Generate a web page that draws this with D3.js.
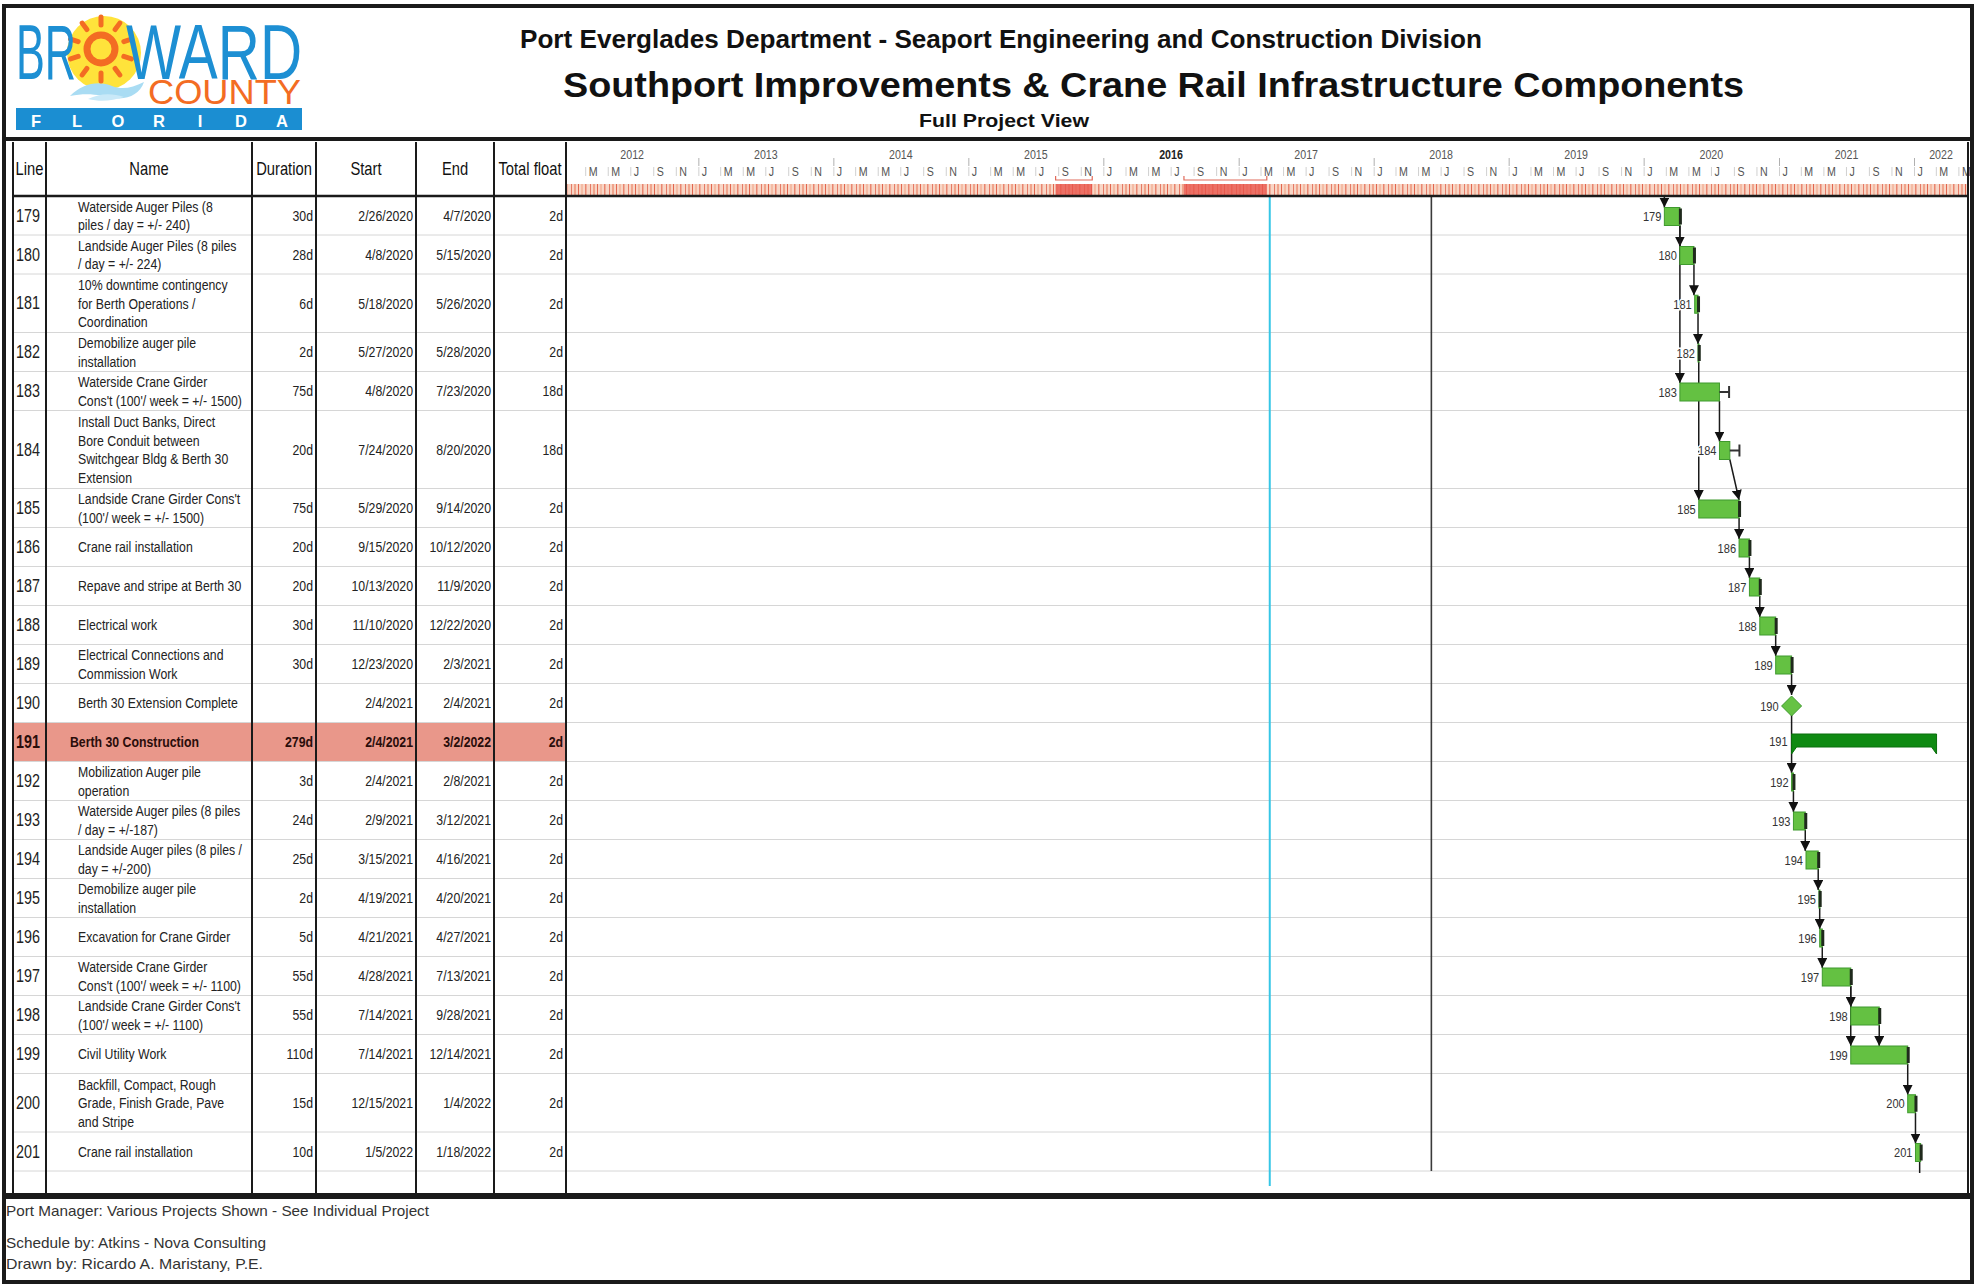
<!DOCTYPE html>
<html>
<head>
<meta charset="utf-8">
<title>Southport Improvements &amp; Crane Rail Infrastructure Components</title>
<script src="https://cdn.jsdelivr.net/npm/d3@7"></script>
<style>
  html, body { margin: 0; padding: 0; background: #fff; }
  svg { display: block; }
</style>
</head>
<body>
<svg id="chart" width="1976" height="1286"></svg>
<script>
// ---------------- schedule data ----------------
const lineIds = [179, 180, 181, 182, 183, 184, 185, 186, 187, 188, 189, 190,
                 191, 192, 193, 194, 195, 196, 197, 198, 199, 200, 201];

const taskNames = [
  "Waterside Auger Piles (8\npiles / day = +/- 240)",
  "Landside Auger Piles (8 piles\n/ day = +/- 224)",
  "10% downtime contingency\nfor Berth Operations /\nCoordination",
  "Demobilize auger pile\ninstallation",
  "Waterside Crane Girder\nCons't (100'/ week = +/- 1500)",
  "Install Duct Banks, Direct\nBore Conduit between\nSwitchgear Bldg & Berth 30\nExtension",
  "Landside Crane Girder Cons't\n(100'/ week = +/- 1500)",
  "Crane rail installation",
  "Repave and stripe at Berth 30",
  "Electrical work",
  "Electrical Connections and\nCommission Work",
  "Berth 30 Extension Complete",
  "Berth 30 Construction",
  "Mobilization Auger pile\noperation",
  "Waterside Auger piles (8 piles\n/ day = +/-187)",
  "Landside Auger piles (8 piles /\nday = +/-200)",
  "Demobilize auger pile\ninstallation",
  "Excavation for Crane Girder",
  "Waterside Crane Girder\nCons't (100'/ week = +/- 1100)",
  "Landside Crane Girder Cons't\n(100'/ week = +/- 1100)",
  "Civil Utility Work",
  "Backfill, Compact, Rough\nGrade, Finish Grade, Pave\nand Stripe",
  "Crane rail installation"
];

const durations = ["30d", "28d", "6d", "2d", "75d", "20d", "75d", "20d", "20d", "30d", "30d", "",
                   "279d", "3d", "24d", "25d", "2d", "5d", "55d", "55d", "110d", "15d", "10d"];

const startDates = ["2/26/2020", "4/8/2020", "5/18/2020", "5/27/2020", "4/8/2020", "7/24/2020",
                    "5/29/2020", "9/15/2020", "10/13/2020", "11/10/2020", "12/23/2020", "2/4/2021",
                    "2/4/2021", "2/4/2021", "2/9/2021", "3/15/2021", "4/19/2021", "4/21/2021",
                    "4/28/2021", "7/14/2021", "7/14/2021", "12/15/2021", "1/5/2022"];

const endDates = ["4/7/2020", "5/15/2020", "5/26/2020", "5/28/2020", "7/23/2020", "8/20/2020",
                  "9/14/2020", "10/12/2020", "11/9/2020", "12/22/2020", "2/3/2021", "2/4/2021",
                  "3/2/2022", "2/8/2021", "3/12/2021", "4/16/2021", "4/20/2021", "4/27/2021",
                  "7/13/2021", "9/28/2021", "12/14/2021", "1/4/2022", "1/18/2022"];

const totalFloat = ["2d", "2d", "2d", "2d", "18d", "18d", "2d", "2d", "2d", "2d", "2d", "2d",
                    "2d", "2d", "2d", "2d", "2d", "2d", "2d", "2d", "2d", "2d", "2d"];

const summaryLines = [191];
const milestoneLines = [190];

// predecessor -> successor ("FS" finish-to-start, "FF" finish-to-finish)
const links = [
  [null, 179, "IN"],
  [179, 180, "FS"], [179, 183, "FS"], [180, 181, "FS"], [181, 182, "FS"], [182, 185, "FS"],
  [183, 184, "FS"], [184, 185, "FF"], [185, 186, "FS"], [186, 187, "FS"], [187, 188, "FS"],
  [188, 189, "FS"], [189, 190, "FS"], [190, 192, "FS"], [192, 193, "FS"], [193, 194, "FS"],
  [194, 195, "FS"], [195, 196, "FS"], [196, 197, "FS"], [197, 198, "FS"], [197, 199, "FS"],
  [198, 199, "FS"], [199, 200, "FS"], [200, 201, "FS"],
  [201, null, "OUT"]
];

const columnHeaders = ["Line", "Name", "Duration", "Start", "End", "Total float"];
const yearLabels = [2012, 2013, 2014, 2015, 2016, 2017, 2018, 2019, 2020, 2021, 2022];
const boldYears = [2016];

const statusDate = "3/26/2017";
const markerDate = "6/6/2018";
// periods of heavy activity in the whole-program histogram strip
const busyPeriods = [["8/25/2015", "12/2/2015"], ["8/6/2016", "3/18/2017"]];

const headerLine1 = "Port Everglades Department - Seaport Engineering and Construction Division";
const headerTitle = "Southport Improvements & Crane Rail Infrastructure Components";
const headerSub = "Full Project View";
const footerLines = [
  "Port Manager: Various Projects Shown - See Individual Project",
  "Schedule by: Atkins - Nova Consulting",
  "Drawn by: Ricardo A. Maristany, P.E."
];

// ---------------- helpers ----------------
const svg = d3.select("#chart");
const FONT = "'Liberation Sans', Arial, Helvetica, sans-serif";
const NARROW = 0.82;

const parseDate = s => { const [m, d, y] = s.split("/").map(Number); return new Date(y, m - 1, d); };
const nextDay = dt => d3.timeDay.offset(dt, 1);
function addWorkdays(dt, n) {
  let d = new Date(dt), k = 0;
  while (k < n) { d = d3.timeDay.offset(d, 1); const wd = d.getDay(); if (wd !== 0 && wd !== 6) k++; }
  return d;
}

// condensed text (horizontally scaled sans)
function ntext(g, x, y, s, o = {}) {
  return g.append("text")
    .attr("transform", `translate(${x},${y}) scale(${o.scale || NARROW},1)`)
    .attr("font-family", FONT)
    .attr("font-size", o.size || 15)
    .attr("font-weight", o.weight || "normal")
    .attr("text-anchor", o.anchor || "start")
    .attr("dy", "0.35em")
    .attr("fill", o.fill || "#222")
    .text(s);
}

svg.append("rect").attr("width", 1976).attr("height", 1286).attr("fill", "#fff");

// ---------------- layout ----------------
const colX = [13, 46, 252, 316, 416, 494, 566];
const rightX = 1968;
const headTop = 142, headBottom = 196;
const lineH = 19.5;

let yCursor = headBottom;
const rows = lineIds.map((id, i) => {
  const lines = taskNames[i].split("\n");
  const h = Math.max(2, lines.length) * lineH;
  const r = {
    id, i, lines, top: yCursor, h, mid: yCursor + h / 2,
    start: parseDate(startDates[i]), end: parseDate(endDates[i]),
    float: parseInt(totalFloat[i], 10),
    summary: summaryLines.includes(id), milestone: milestoneLines.includes(id)
  };
  yCursor += h;
  return r;
});
const rowsBottom = yCursor;
const tableBottom = 1194;
const byId = new Map(rows.map(r => [r.id, r]));

// time scale: Jan 2012 .. spring 2022
const x = d3.scaleTime()
  .domain([new Date(2012, 0, 1), new Date(2022, 0, 1)])
  .range([563, 1914]);
const tl = x.copy().domain([x.invert(colX[6]), x.invert(rightX)]).range([colX[6], rightX]);

// ---------------- logo ----------------
const logo = svg.append("g");
logo.append("circle").attr("cx", 104).attr("cy", 53).attr("r", 37).attr("fill", "#ffe33b");
logo.append("path")
  .attr("d", "M70,96 C82,84 98,80 112,86 C122,90 132,88 144,82 C140,94 128,100 114,98 C102,96 90,92 70,96 Z")
  .attr("fill", "#a9dcf3");
logo.append("path")
  .attr("d", "M88,99 C100,93 112,93 124,97 C112,101 100,102 88,99 Z")
  .attr("fill", "#c9e9f8");
// sun rays around the "O"
d3.range(10).forEach(k => {
  const a = k / 10 * 2 * Math.PI - Math.PI / 2;
  logo.append("line")
    .attr("x1", 101 + Math.cos(a) * 24).attr("y1", 49 + Math.sin(a) * 24)
    .attr("x2", 101 + Math.cos(a) * 32).attr("y2", 49 + Math.sin(a) * 32)
    .attr("stroke", "#f36c23").attr("stroke-width", 5).attr("stroke-linecap", "round");
});
logo.append("circle").attr("cx", 101).attr("cy", 49).attr("r", 14)
  .attr("fill", "none").attr("stroke", "#f36c23").attr("stroke-width", 7);
// word mark: one text run with positioned pieces
const mark = logo.append("text").attr("font-family", FONT).attr("lengthAdjust", "spacingAndGlyphs");
mark.append("tspan").attr("x", 16).attr("y", 79).attr("font-size", 78).attr("fill", "#1d8fd3")
  .attr("textLength", 60).attr("lengthAdjust", "spacingAndGlyphs").text("BR");
mark.append("tspan").attr("x", 126).attr("y", 79).attr("font-size", 78).attr("fill", "#1d8fd3")
  .attr("textLength", 176).attr("lengthAdjust", "spacingAndGlyphs").text("WARD");
mark.append("tspan").attr("x", 148).attr("y", 104).attr("font-size", 35).attr("fill", "#f36c23")
  .attr("textLength", 153).attr("lengthAdjust", "spacingAndGlyphs").text("COUNTY");
logo.append("rect").attr("x", 16).attr("y", 108).attr("width", 286).attr("height", 22).attr("fill", "#1b8ed2");
const floridaLetters = "FLORIDA".split("");
const fl = d3.scalePoint().domain(d3.range(floridaLetters.length)).range([36, 282]);
floridaLetters.forEach((c, k) => {
  logo.append("text").attr("x", fl(k)).attr("y", 127).attr("text-anchor", "middle")
    .attr("font-family", FONT).attr("font-weight", "bold").attr("font-size", 16.5).attr("fill", "#fff").text(c);
});

// ---------------- header titles ----------------
svg.append("text").attr("x", 520).attr("y", 48).attr("font-family", FONT).attr("font-weight", "bold")
  .attr("font-size", 25).attr("fill", "#111").attr("textLength", 962).attr("lengthAdjust", "spacingAndGlyphs")
  .text(headerLine1);
svg.append("text").attr("x", 563).attr("y", 97).attr("font-family", FONT).attr("font-weight", "bold")
  .attr("font-size", 35).attr("fill", "#111").attr("textLength", 1181).attr("lengthAdjust", "spacingAndGlyphs")
  .text(headerTitle);
svg.append("text").attr("x", 919).attr("y", 127).attr("font-family", FONT).attr("font-weight", "bold")
  .attr("font-size", 18).attr("fill", "#111").attr("textLength", 170).attr("lengthAdjust", "spacingAndGlyphs")
  .text(headerSub);

// ---------------- timeline header ----------------
const defs = svg.append("defs");
const pat = defs.append("pattern").attr("id", "histStripe").attr("patternUnits", "userSpaceOnUse")
  .attr("width", 19).attr("height", 12);
pat.append("rect").attr("width", 19).attr("height", 12).attr("fill", "#f8d6c6");
[[1, 1, "#e57a66"], [4, 2, "#f0a48c"], [8, 1, "#e2664f"], [11, 2, "#f4bba4"], [15, 1.5, "#e9856f"]]
  .forEach(([px, pw, pc]) => pat.append("rect").attr("x", px).attr("width", pw).attr("height", 12).attr("fill", pc));

svg.append("rect").attr("x", colX[6]).attr("y", 184).attr("width", rightX - colX[6]).attr("height", 12)
  .attr("fill", "url(#histStripe)");
busyPeriods.forEach(([a, b]) => {
  const xa = tl(parseDate(a)), xb = tl(parseDate(b));
  svg.append("rect").attr("x", xa).attr("y", 184).attr("width", xb - xa).attr("height", 12)
    .attr("fill", "#e8564c").attr("opacity", 0.8);
  svg.append("path").attr("d", `M${xa},176 V180 H${xb} V176`).attr("fill", "none")
    .attr("stroke", "#e06a5a").attr("stroke-width", 1.2);
});

// year boundaries
const yearAxis = d3.axisBottom(tl).ticks(d3.timeYear.every(1)).tickFormat("").tickSize(8).tickSizeOuter(0);
const ya = svg.append("g").attr("transform", "translate(0,158)").call(yearAxis);
ya.select(".domain").remove();
ya.selectAll(".tick line").attr("stroke", "#b0b0b0");

// year labels centred on the visible part of each year
yearLabels.forEach(yr => {
  const a = Math.max(tl(new Date(yr, 0, 1)), colX[6]);
  const b = Math.min(tl(new Date(yr + 1, 0, 1)), rightX);
  ntext(svg, (a + b) / 2, 154, String(yr), {
    size: 13, anchor: "middle", fill: boldYears.includes(yr) ? "#222" : "#555",
    weight: boldYears.includes(yr) ? "bold" : "normal"
  });
});

// month initials, every second month
const monthAxis = d3.axisBottom(tl).ticks(d3.timeMonth.every(2))
  .tickFormat(d => d3.timeFormat("%b")(d)[0]).tickSize(0).tickSizeOuter(0);
const ma = svg.append("g").attr("transform", "translate(0,171)").call(monthAxis);
ma.select(".domain").remove();
ma.selectAll(".tick line").attr("y1", -4).attr("y2", 5).attr("stroke", "#d0d0d0");
ma.selectAll(".tick text")
  .attr("font-family", FONT).attr("font-size", 13).attr("fill", "#555")
  .attr("text-anchor", "start").attr("y", 0).attr("dy", "0.35em")
  .attr("transform", `translate(3,0) scale(${NARROW},1)`).attr("x", 0);

// ---------------- table ----------------
const table = svg.append("g");
// highlighted summary row
rows.filter(r => r.summary).forEach(r => {
  table.append("rect").attr("x", colX[0]).attr("y", r.top).attr("width", colX[6] - colX[0])
    .attr("height", r.h).attr("fill", "#e9978a");
});
// row separators across table and timeline
table.selectAll("line.rowsep").data(rows).join("line").attr("class", "rowsep")
  .attr("x1", colX[0]).attr("x2", rightX)
  .attr("y1", r => r.top + r.h).attr("y2", r => r.top + r.h)
  .attr("stroke", "#d6d6d6").attr("stroke-width", 1);

// header labels
const headCenters = d3.range(6).map(k => (colX[k] + colX[k + 1]) / 2);
columnHeaders.forEach((h, k) => ntext(table, headCenters[k], 169, h, { size: 18, anchor: "middle", fill: "#111" }));

rows.forEach(r => {
  const bold = r.summary ? "bold" : "normal";
  const col = r.summary ? "#2a0d0a" : "#222";
  ntext(table, 16, r.mid, r.id, { size: 17.5, weight: bold, fill: col });
  r.lines.forEach((ln, j) => {
    ntext(table, r.summary ? 70 : 78, r.mid + (j - (r.lines.length - 1) / 2) * 18.5, ln,
      { size: 15, weight: bold, fill: col });
  });
  ntext(table, colX[3] - 3, r.mid, durations[r.i], { size: 15, anchor: "end", weight: bold, fill: col });
  ntext(table, colX[4] - 3, r.mid, startDates[r.i], { size: 15, anchor: "end", weight: bold, fill: col });
  ntext(table, colX[5] - 3, r.mid, endDates[r.i], { size: 15, anchor: "end", weight: bold, fill: col });
  ntext(table, colX[6] - 3, r.mid, totalFloat[r.i], { size: 15, anchor: "end", weight: bold, fill: col });
});

// ---------------- gantt ----------------
const gantt = svg.append("g");
// date lines
gantt.append("line").attr("x1", tl(parseDate(statusDate))).attr("x2", tl(parseDate(statusDate)))
  .attr("y1", headBottom).attr("y2", 1186).attr("stroke", "#36c6e6").attr("stroke-width", 2);
gantt.append("line").attr("x1", tl(parseDate(markerDate))).attr("x2", tl(parseDate(markerDate)))
  .attr("y1", headBottom).attr("y2", rowsBottom).attr("stroke", "#3a3a3a").attr("stroke-width", 1.6);

defs.append("marker").attr("id", "arrow").attr("viewBox", "0 0 10 10").attr("refX", 10).attr("refY", 5)
  .attr("markerWidth", 10).attr("markerHeight", 10).attr("markerUnits", "userSpaceOnUse").attr("orient", "auto")
  .append("path").attr("d", "M0,0 L10,5 L0,10 Z").attr("fill", "#111");

const barTop = r => r.mid - 8;
const barBottom = r => r.mid + 10;
const finishX = r => r.milestone ? tl(r.start) : tl(nextDay(r.end));
const linkG = gantt.append("g").attr("fill", "none").attr("stroke", "#1a1a1a").attr("stroke-width", 1.5);
links.forEach(([p, s, type]) => {
  if (type === "IN") {
    const r = byId.get(s);
    linkG.append("line").attr("x1", tl(r.start)).attr("x2", tl(r.start))
      .attr("y1", headBottom).attr("y2", barTop(r)).attr("marker-end", "url(#arrow)");
    return;
  }
  if (type === "OUT") {
    const r = byId.get(p);
    linkG.append("line").attr("x1", finishX(r) - 1).attr("x2", finishX(r) - 1)
      .attr("y1", barBottom(r)).attr("y2", rowsBottom + 2);
    return;
  }
  const a = byId.get(p), b = byId.get(s);
  const x0 = finishX(a);
  const y0 = a.milestone ? a.mid + 12 : barBottom(a);
  if (type === "FS") {
    linkG.append("line").attr("x1", x0).attr("x2", x0).attr("y1", y0).attr("y2", barTop(b))
      .attr("marker-end", "url(#arrow)");
  } else {
    linkG.append("line").attr("x1", x0).attr("x2", finishX(b)).attr("y1", y0).attr("y2", barTop(b))
      .attr("marker-end", "url(#arrow)");
  }
});

rows.forEach(r => {
  const x0 = tl(r.start), x1 = finishX(r);
  if (r.milestone) {
    const c = r.mid + 3, s = 10;
    gantt.append("path").attr("d", `M${x0},${c - s} L${x0 + s},${c} L${x0},${c + s} L${x0 - s},${c} Z`)
      .attr("fill", "#66c244").attr("stroke", "#3f9a2e").attr("stroke-width", 1);
    ntext(gantt, x0 - s - 3, c, r.id, { size: 13.5, anchor: "end", fill: "#333" });
    return;
  }
  if (r.summary) {
    const t = r.mid - 8, b = r.mid + 5, tip = r.mid + 12;
    gantt.append("path")
      .attr("d", `M${x0},${t} L${x1},${t} L${x1},${tip} L${x1 - 5},${b} L${x0 + 5},${b} L${x0},${tip} Z`)
      .attr("fill", "#0f8a12").attr("stroke", "#0a6e0c").attr("stroke-width", 1);
    ntext(gantt, x0 - 4, r.mid - 1, r.id, { size: 13.5, anchor: "end", fill: "#333" });
    return;
  }
  const t = barTop(r), h = barBottom(r) - barTop(r);
  gantt.append("rect").attr("x", x0).attr("y", t).attr("width", Math.max(1, x1 - x0)).attr("height", h)
    .attr("fill", "#64c142").attr("stroke", "#3f9a2e").attr("stroke-width", 1);
  // total float
  const fx = tl(nextDay(addWorkdays(r.end, r.float)));
  if (r.float > 5) {
    gantt.append("line").attr("x1", x1).attr("x2", fx).attr("y1", r.mid + 1).attr("y2", r.mid + 1)
      .attr("stroke", "#333").attr("stroke-width", 2);
    gantt.append("line").attr("x1", fx).attr("x2", fx).attr("y1", r.mid - 5).attr("y2", r.mid + 7)
      .attr("stroke", "#333").attr("stroke-width", 2);
  } else {
    gantt.append("rect").attr("x", x1 - 1).attr("y", t + 1).attr("width", Math.max(3, fx - x1 + 1))
      .attr("height", h - 2).attr("fill", "#1f2a1c");
  }
  ntext(gantt, x0 - 3, r.mid + 1, r.id, { size: 13.5, anchor: "end", fill: "#333" })
    .attr("stroke", "#fff").attr("stroke-width", 3).attr("paint-order", "stroke");
});

// ---------------- grid frame ----------------
const frame = svg.append("g").attr("stroke", "#1a1a1a").attr("fill", "none");
colX.concat([rightX]).forEach(cx => {
  frame.append("line").attr("x1", cx).attr("x2", cx).attr("y1", headTop).attr("y2", tableBottom)
    .attr("stroke-width", 2);
});
frame.append("line").attr("x1", colX[0]).attr("x2", rightX).attr("y1", headBottom).attr("y2", headBottom)
  .attr("stroke-width", 2.5);
frame.append("line").attr("x1", 4).attr("x2", 1972).attr("y1", 139).attr("y2", 139).attr("stroke-width", 4);
frame.append("line").attr("x1", 4).attr("x2", 1972).attr("y1", 1196).attr("y2", 1196).attr("stroke-width", 6);
frame.append("rect").attr("x", 4).attr("y", 6).attr("width", 1968).attr("height", 1276).attr("stroke-width", 4);

// ---------------- footer ----------------
const footY = [1216, 1248, 1269];
const footW = [423, 260, 257];
footerLines.forEach((t, k) => {
  svg.append("text").attr("x", 6).attr("y", footY[k]).attr("font-family", FONT).attr("font-size", 15)
    .attr("fill", "#333").attr("textLength", footW[k]).attr("lengthAdjust", "spacingAndGlyphs").text(t);
});
</script>
</body>
</html>
